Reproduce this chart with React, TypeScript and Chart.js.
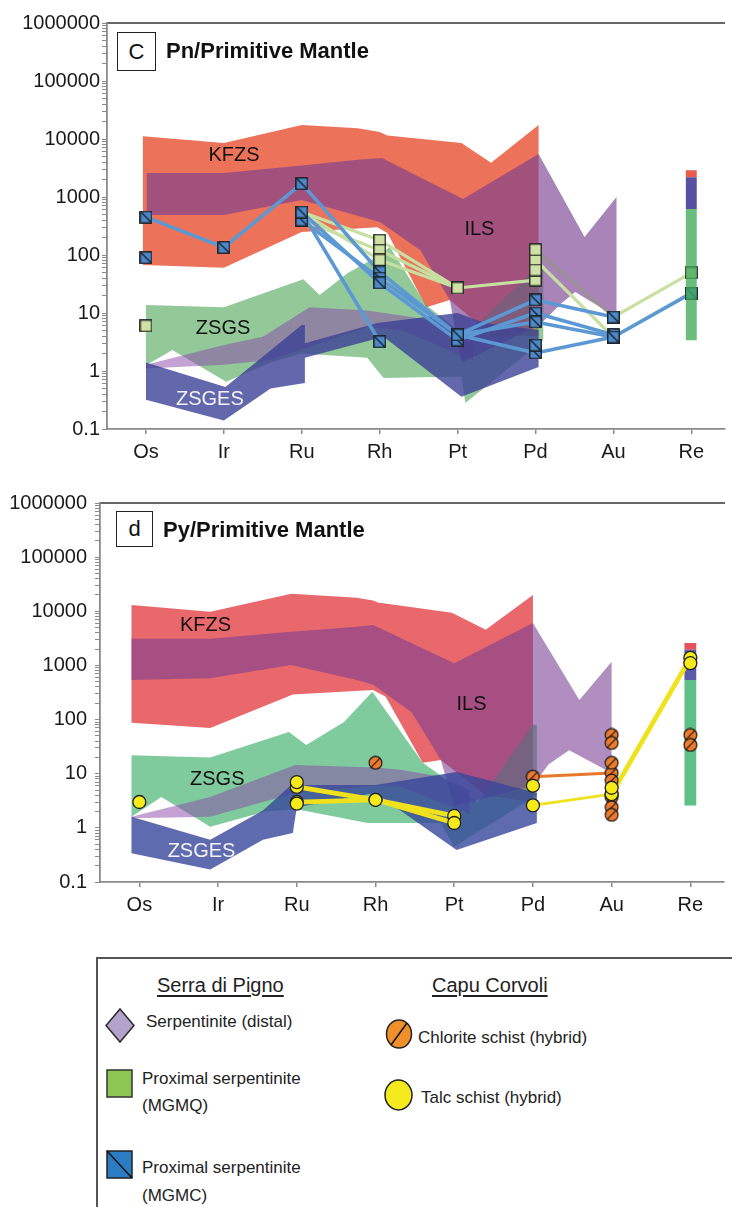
import React, { useEffect, useRef } from 'react';
import { Chart, registerables } from 'chart.js';

Chart.register(...registerables);

const FONT = '"Liberation Sans", Arial, Helvetica, sans-serif';

// ---------- categories / ticks ----------
const elements = ['Os', 'Ir', 'Ru', 'Rh', 'Pt', 'Pd', 'Au', 'Re'];
const yTickLabels = ['0.1', '1', '10', '100', '1000', '10000', '100000', '1000000'];

type P = [number, number];
type V = (number | null)[];

// ---------- panel c (Pn) reference fields: outline [element index, value] ----------
const kfzsC: P[] = [
  [-0.04, 11200], [1, 8500], [2, 17400], [2.72, 15300], [3.0, 13200], [3.1, 11500], [4.05, 8500], [4.43, 3900], [5.04, 17400],
  [5.04, 4], [4.45, 4], [3.9, 16.8], [3.6, 12.6], [3.1, 240], [2.97, 300], [2.0, 250], [1.0, 60], [-0.04, 67],
];
const ilsC: P[] = [
  [0.01, 2600], [1, 2600], [2, 3500], [2.72, 4400], [3.03, 4700], [4.07, 920], [5.04, 5500], [5.63, 204], [6.04, 1000],
  [6.04, 8.5], [5.51, 23], [5.34, 15], [5.04, 6], [4.05, 1.4], [3.9, 16.8], [3.52, 122], [3.0, 370], [2.0, 890], [1, 490], [0.01, 490],
];
const zsgsC: P[] = [
  [0, 13.7], [1, 12.6], [2.02, 38], [2.23, 20.5], [2.59, 49], [2.97, 94], [3.13, 137], [3.6, 13.6], [4.1, 4], [5.0, 60], [5.1, 60],
  [5.1, 3.4], [4.1, 0.28], [4.05, 0.8], [3.05, 0.76], [2.84, 1.7], [2.0, 2.0], [1.6, 1.4], [1.03, 0.65], [0.34, 2.3], [0, 1.26],
];
const serpC: P[] = [
  [0, 1.28], [1, 2.8], [1.5, 3.9], [2.1, 12.6], [2.84, 11], [3.3, 9], [3.8, 7], [4.2, 4],
  [4.2, 1.5], [3.3, 5], [2.84, 5.7], [2.1, 2.6], [1.6, 1.55], [1, 1.28], [0, 1.1],
];
const zsgesC: P[] = [
  [0, 1.4], [1.02, 0.53], [2.0, 6.2], [2.04, 6.2], [2.04, 3.0], [2.97, 6.7], [4.0, 10], [4.35, 6.7], [5.04, 5.1],
  [5.04, 1.17], [4.05, 0.36], [3.05, 3.9], [2.04, 1.7], [2.04, 0.62], [1.6, 0.5], [1.0, 0.14], [0, 0.32],
];
// Re bar: green low..mid, blue mid..high, red high..top
const reBarC = [3.4, 620, 2200, 2900];

// panel c samples (values per element, null = not plotted)
const cMgmcLines: V[] = [
  [450, 135, 1700, 51, 4.2, 2.05, 3.85, 22],
  [null, null, 550, 3.2, null, null, null, null],
  [null, null, 400, 40, 4.2, 16.8, 8.5, null],
  [null, null, 550, 33, 3.4, 10, 4.2, null],
  [null, null, null, null, 4.2, 7.0, 3.85, null],
];
const cMgmcPoints: P[] = [[0, 90], [5, 2.8]];
const cMgmqLines: V[] = [
  [null, null, 550, 180, 27, 37, null, null],
  [null, null, 400, 121, 27, null, null, null],
  [null, null, 550, 82, 27, null, null, null],
  [null, null, null, null, null, null, 8.5, 49],
  [null, null, null, null, null, 82, 3.85, 22],
];
const cGreyLine: V = [null, null, null, null, null, 123, 8.5, null];
const cMgmqPoints: P[] = [[0, 6], [5, 55], [5, 123]];

// ---------- panel d (Py) reference fields ----------
const kfzsD: P[] = [
  [-0.1, 13100], [0.9, 9800], [1.93, 21000], [2.76, 17800], [2.97, 15800], [3.03, 14500], [3.97, 9400], [4.4, 4560], [5.0, 20000],
  [5.0, 3], [4.4, 4], [3.83, 18], [3.6, 15.9], [3.13, 264], [2.97, 350], [1.95, 290], [0.9, 70], [-0.1, 87],
];
const ilsD: P[] = [
  [-0.1, 3100], [0.9, 3100], [1.93, 4200], [2.76, 5200], [2.97, 5600], [4.0, 1100], [5.0, 6100], [5.59, 230], [6.0, 1170],
  [6.0, 10.3], [5.46, 27], [5.2, 15], [5.0, 6], [4.0, 2.5], [3.83, 18], [3.46, 137], [2.97, 440], [2.76, 540], [1.93, 1020], [0.9, 580], [-0.1, 540],
];
const zsgsD: P[] = [
  [-0.1, 22], [0.9, 20], [1.9, 59], [2.12, 34], [2.6, 90], [2.96, 325], [3.6, 15.9], [4.3, 3], [5.0, 80], [5.05, 80],
  [5.05, 4], [4.0, 0.45], [3.83, 1.23], [2.9, 1.23], [2.0, 2.2], [1.6, 2.0], [0.9, 1.05], [0.28, 3.7], [-0.1, 1.6],
];
const serpD: P[] = [
  [-0.1, 1.6], [0.9, 3.7], [1.98, 14.5], [3.0, 13], [3.3, 12], [3.8, 9], [4.2, 5],
  [4.2, 1.8], [3.3, 6], [3.0, 6], [1.98, 4.4], [0.9, 1.6], [-0.1, 1.5],
];
const zsgesD: P[] = [
  [-0.1, 1.6], [0.9, 0.6], [1.57, 2.1], [1.9, 5.7], [1.98, 6.2], [3.0, 6.2], [4.03, 10.8], [5.05, 4.4],
  [5.05, 1.23], [4.03, 0.39], [3.0, 4.4], [2.0, 2.4], [1.95, 0.8], [1.57, 0.6], [0.9, 0.17], [-0.1, 0.34],
];
const reBarD = [2.6, 540, 1950, 2600];

const dTalcThick: V[] = [
  [null, null, 5.7, 3.3, 1.66, null, null, null],
  [null, null, 3.0, 3.3, 1.23, null, null, null],
  [null, null, null, null, null, null, 4.2, 1380],
];
const dTalcThin: V[] = [[null, null, null, null, null, 2.6, 4.2, null]];
const dTalcPoints: P[] = [[0, 3], [2, 7.0], [2, 2.8], [5, 6.0], [6, 5.5], [7, 1100]];
const dChloriteLines: V[] = [[null, null, null, null, null, 8.8, 10.3, null]];
const dChloritePoints: P[] = [
  [3, 15.9], [6, 52], [6, 37], [6, 15.9], [6, 7.5], [6, 3.7], [6, 2.4], [6, 1.74], [7, 52], [7, 34],
];

// band labels [text, element index, value, colour]
const labelsC: [string, number, number, string][] = [
  ['KFZS', 1.13, 5200, '#111'], ['ILS', 4.28, 270, '#111'], ['ZSGS', 0.99, 5.5, '#111'], ['ZSGES', 0.82, 0.32, '#f2f2f8'],
];
const labelsD: [string, number, number, string][] = [
  ['KFZS', 0.84, 5400, '#111'], ['ILS', 4.22, 186, '#111'], ['ZSGS', 0.99, 7.7, '#111'], ['ZSGES', 0.79, 0.37, '#f2f2f8'],
];

// ---------- helpers ----------
const toPts = (arr: P[]) => arr.map(([x, y]) => ({ x, y }));
const seriesPts = (vals: V) =>
  vals.map((v, i) => (v == null ? null : { x: i, y: v })).filter((p) => p !== null) as { x: number; y: number }[];

const bandDs = (pts: P[], color: string, order: number) => ({
  data: toPts(pts),
  showLine: true,
  fill: 'shape',
  backgroundColor: color,
  borderColor: 'rgba(0,0,0,0)',
  borderWidth: 0,
  pointRadius: 0,
  pointHoverRadius: 0,
  tension: 0,
  order,
});

const lineDs = (vals: V, color: string, width: number, order: number) => ({
  data: seriesPts(vals),
  showLine: true,
  fill: false,
  borderColor: color,
  borderWidth: width,
  borderJoinStyle: 'round',
  borderCapStyle: 'round',
  pointRadius: 0,
  pointHoverRadius: 0,
  tension: 0,
  order,
});

const markerDs = (pts: P[], style: any, radius: number, order: number, bg = '#000', border = '#222', bw = 1.2) => ({
  data: toPts(pts),
  showLine: false,
  fill: false,
  pointStyle: style,
  pointRadius: radius,
  pointHoverRadius: radius,
  pointBackgroundColor: bg,
  pointBorderColor: border,
  pointBorderWidth: bw,
  order,
});

const barDs = (range: number[], colors: string[], half: number, order: number) =>
  [0, 1, 2].map((k) =>
    bandDs(
      [[7 - half, range[k]], [7 + half, range[k]], [7 + half, range[k + 1]], [7 - half, range[k + 1]]],
      colors[k],
      order,
    ),
  );

const collect = (lines: V[], extra: P[]): P[] => {
  const out: P[] = [];
  lines.forEach((l) => l.forEach((v, i) => { if (v != null) out.push([i, v]); }));
  return out.concat(extra);
};

function squareMarker(fill: string, diag: boolean): HTMLCanvasElement {
  const s = 13;
  const c = document.createElement('canvas');
  c.width = s; c.height = s;
  const g = c.getContext('2d')!;
  g.fillStyle = fill;
  g.fillRect(0.5, 0.5, s - 1, s - 1);
  g.strokeStyle = '#1a1a1a';
  g.lineWidth = 1.3;
  g.strokeRect(0.8, 0.8, s - 1.6, s - 1.6);
  if (diag) {
    g.beginPath(); g.moveTo(1.5, 1.5); g.lineTo(s - 1.5, s - 1.5); g.stroke();
  }
  return c;
}

function slashCircle(fill: string): HTMLCanvasElement {
  const s = 15;
  const c = document.createElement('canvas');
  c.width = s; c.height = s;
  const g = c.getContext('2d')!;
  const r = 6.4, m = s / 2;
  g.beginPath(); g.arc(m, m, r, 0, Math.PI * 2);
  g.fillStyle = fill; g.fill();
  g.strokeStyle = '#1a1a1a'; g.lineWidth = 1.2; g.stroke();
  g.beginPath(); g.moveTo(m - 4.3, m + 4.3); g.lineTo(m + 4.3, m - 4.3); g.stroke();
  return c;
}

const labelPlugin = {
  id: 'bandLabels',
  afterDatasetsDraw(chart: any, _a: any, opts: any) {
    const { ctx } = chart;
    const x = chart.scales.x, y = chart.scales.y;
    ctx.save();
    ctx.font = `20px ${FONT}`;
    ctx.textAlign = 'center';
    ctx.textBaseline = 'middle';
    for (const [t, xv, yv, col] of opts.labels || []) {
      ctx.fillStyle = col;
      ctx.fillText(t, x.getPixelForValue(xv), y.getPixelForValue(yv));
    }
    ctx.restore();
  },
};

const yTicks = () => {
  const t: { value: number }[] = [];
  for (let e = -1; e <= 5; e++) for (let m = 1; m <= 9; m++) t.push({ value: m * Math.pow(10, e) });
  t.push({ value: 1e6 });
  return t;
};

const scalesFor = (yWidth: number, xHeight: number, yPad: number) => ({
  x: {
    type: 'linear',
    min: -0.5,
    max: 7.43,
    afterBuildTicks: (s: any) => { s.ticks = elements.map((_, i) => ({ value: i })); },
    afterFit: (s: any) => { s.height = xHeight; },
    ticks: {
      callback: (v: number) => elements[Math.round(v)] ?? '',
      color: '#1a1a1a',
      font: { family: FONT, size: 20 },
      padding: 6,
      autoSkip: false,
      maxRotation: 0,
    },
    grid: { drawOnChartArea: false, drawTicks: true, tickLength: 5, color: '#8a8a8a', lineWidth: 1.5 },
    border: { display: true, color: '#8a8a8a', width: 1.8 },
  },
  xTop: {
    type: 'linear',
    position: 'top',
    min: -0.5,
    max: 7.43,
    ticks: { display: false },
    grid: { drawOnChartArea: false, drawTicks: false },
    border: { display: true, color: '#666', width: 2 },
    afterFit: (s: any) => { s.height = 0; },
  },
  y: {
    type: 'logarithmic',
    min: 0.1,
    max: 1e6,
    afterBuildTicks: (s: any) => { s.ticks = yTicks(); },
    afterFit: (s: any) => { s.width = yWidth; },
    ticks: {
      autoSkip: false,
      color: '#1a1a1a',
      font: { family: FONT, size: 20 },
      padding: yPad,
      callback: (v: number) => {
        const l = Math.log10(v);
        const r = Math.round(l);
        return Math.abs(l - r) < 1e-6 ? yTickLabels[r + 1] : '';
      },
    },
    grid: { drawOnChartArea: false, drawTicks: true, tickLength: 5, color: '#8a8a8a', lineWidth: 1 },
    border: { display: true, color: '#8a8a8a', width: 1.8 },
  },
});

const baseOptions = (yWidth: number, xHeight: number, yPad: number, labels: any) => ({
  responsive: false,
  maintainAspectRatio: false,
  devicePixelRatio: 1,
  animation: false,
  events: [],
  layout: { padding: { top: 23, right: 0, left: 0, bottom: 0 } },
  plugins: {
    legend: { display: false },
    tooltip: { enabled: false },
    bandLabels: { labels },
  },
  scales: scalesFor(yWidth, xHeight, yPad),
});

function configC(): any {
  const blue = squareMarker('#4a89cc', true);
  const pale = squareMarker('#cfe2a5', false);
  const datasets: any[] = [
    bandDs(kfzsC, '#ec735a', 20),
    bandDs(zsgsC, 'rgba(75,165,85,0.6)', 19),
    bandDs(serpC, 'rgba(140,70,170,0.5)', 18),
    bandDs(ilsC, 'rgba(119,62,144,0.64)', 17),
    bandDs(zsgesC, 'rgba(60,65,150,0.8)', 16),
    ...cMgmqLines.map((l) => lineDs(l, '#c7dfa0', 3.2, 11)),
    lineDs(cGreyLine, 'rgba(150,150,140,0.9)', 2.5, 11),
    ...cMgmcLines.map((l) => lineDs(l, '#5b98d4', 3.6, 10)),
    markerDs(collect(cMgmqLines, cMgmqPoints), pale, 6, 6),
    markerDs(collect(cMgmcLines, cMgmcPoints), blue, 6, 5),
    ...barDs(reBarC, ['rgba(65,170,90,0.78)', '#5750a2', '#e95a48'], 0.07, 3),
  ];
  return {
    type: 'line',
    data: { datasets },
    options: baseOptions(107, 41, 2, labelsC),
    plugins: [labelPlugin],
  };
}

function configD(): any {
  const orange = slashCircle('#ee7a2b');
  const datasets: any[] = [
    bandDs(kfzsD, '#e9686b', 20),
    bandDs(zsgsD, 'rgba(60,175,105,0.65)', 19),
    bandDs(serpD, 'rgba(140,70,170,0.5)', 18),
    bandDs(ilsD, 'rgba(119,62,147,0.58)', 17),
    bandDs(zsgesD, 'rgba(55,70,155,0.8)', 16),
    ...barDs(reBarD, ['#5fc087', '#5a5aa8', '#e8505a'], 0.075, 14),
    ...dChloriteLines.map((l) => lineDs(l, '#e8772b', 3, 11)),
    ...dTalcThin.map((l) => lineDs(l, '#efe21c', 2.8, 11)),
    ...dTalcThick.map((l) => lineDs(l, '#efe21c', 4.8, 10)),
    markerDs(collect(dChloriteLines, dChloritePoints), orange, 6, 6),
    markerDs(collect(dTalcThick.concat(dTalcThin), dTalcPoints), 'circle', 6.5, 5, '#f6ea1a', '#222', 1.3),
  ];
  return {
    type: 'line',
    data: { datasets },
    options: baseOptions(100, 48, 8, labelsD),
    plugins: [labelPlugin],
  };
}

function ChartCanvas({ make, top, height }: { make: () => any; top: number; height: number }) {
  const ref = useRef<HTMLCanvasElement>(null);
  useEffect(() => {
    const chart = new Chart(ref.current as HTMLCanvasElement, make());
    return () => chart.destroy();
  }, []);
  return (
    <canvas
      ref={ref}
      width={732}
      height={height}
      style={{ position: 'absolute', left: 0, top, width: 732, height, display: 'block' }}
    />
  );
}

const abs = (left: number, top: number, extra: any = {}) => ({ position: 'absolute' as const, left, top, ...extra });

function PanelTitle({ letter, text, boxLeft, boxTop, boxW, boxH, textLeft, textTop }: any) {
  return (
    <>
      <div
        style={abs(boxLeft, boxTop, {
          width: boxW, height: boxH, border: '1.6px solid #222', boxSizing: 'border-box', background: '#fff',
          display: 'flex', alignItems: 'center', justifyContent: 'center',
          fontFamily: FONT, fontSize: 22, lineHeight: '22px', color: '#111',
        })}
      >
        {letter}
      </div>
      <div style={abs(textLeft, textTop, { fontFamily: FONT, fontSize: 22, lineHeight: '22px', fontWeight: 'bold', color: '#111', whiteSpace: 'nowrap' })}>
        {text}
      </div>
    </>
  );
}

function Legend() {
  const txt = (left: number, top: number, s: string, size = 17, extra: any = {}) => (
    <div style={abs(left, top, { fontFamily: FONT, fontSize: size, lineHeight: `${size}px`, color: '#222', whiteSpace: 'nowrap', ...extra })}>{s}</div>
  );
  return (
    <>
      <div style={abs(96, 957, { width: 700, height: 300, border: '2px solid #555', boxSizing: 'border-box' })} />
      {txt(157, 975, 'Serra di Pigno', 20, { textDecoration: 'underline', textUnderlineOffset: '3px' })}
      {txt(432, 975, 'Capu Corvoli', 20, { textDecoration: 'underline', textUnderlineOffset: '3px' })}
      <svg style={abs(104, 1007)} width={32} height={37}>
        <polygon points="16,2 30,18.5 16,35 2,18.5" fill="#b3a2cc" stroke="#2a2a2a" strokeWidth={1.5} />
      </svg>
      {txt(146, 1013, 'Serpentinite (distal)')}
      <svg style={abs(105, 1068)} width={30} height={31}>
        <rect x={2} y={2} width={25} height={27} fill="#8cc653" stroke="#333" strokeWidth={1.5} />
      </svg>
      {txt(142, 1070, 'Proximal serpentinite')}
      {txt(142, 1097, '(MGMQ)')}
      <svg style={abs(105, 1149)} width={30} height={31}>
        <rect x={2} y={2} width={25} height={27} fill="#2b7cc2" stroke="#222" strokeWidth={1.5} />
        <line x1={2} y1={2} x2={27} y2={29} stroke="#111" strokeWidth={1.5} />
      </svg>
      {txt(142, 1159, 'Proximal serpentinite')}
      {txt(142, 1187, '(MGMC)')}
      <svg style={abs(384, 1018)} width={31} height={33}>
        <ellipse cx={15} cy={16} rx={12.5} ry={14} fill="#f0902a" stroke="#222" strokeWidth={1.5} />
        <line x1={7} y1={27} x2={23} y2={5} stroke="#111" strokeWidth={1.5} />
      </svg>
      {txt(418, 1029, 'Chlorite schist (hybrid)')}
      <svg style={abs(383, 1078)} width={31} height={35}>
        <ellipse cx={15.5} cy={17} rx={13.5} ry={15} fill="#f5ea1e" stroke="#222" strokeWidth={1.5} />
      </svg>
      {txt(421, 1089, 'Talc schist (hybrid)')}
    </>
  );
}

export default function App() {
  return (
    <div style={{ position: 'absolute', left: 0, top: 0, width: 732, height: 1207, overflow: 'hidden', background: '#fff' }}>
      <ChartCanvas make={configC} top={0} height={470} />
      <ChartCanvas make={configD} top={480} height={450} />
      <PanelTitle letter="C" text="Pn/Primitive Mantle" boxLeft={117} boxTop={32} boxW={39} boxH={39} textLeft={166} textTop={40} />
      <PanelTitle letter="d" text="Py/Primitive Mantle" boxLeft={116} boxTop={511} boxW={37} boxH={36} textLeft={163} textTop={519} />
      <Legend />
    </div>
  );
}
